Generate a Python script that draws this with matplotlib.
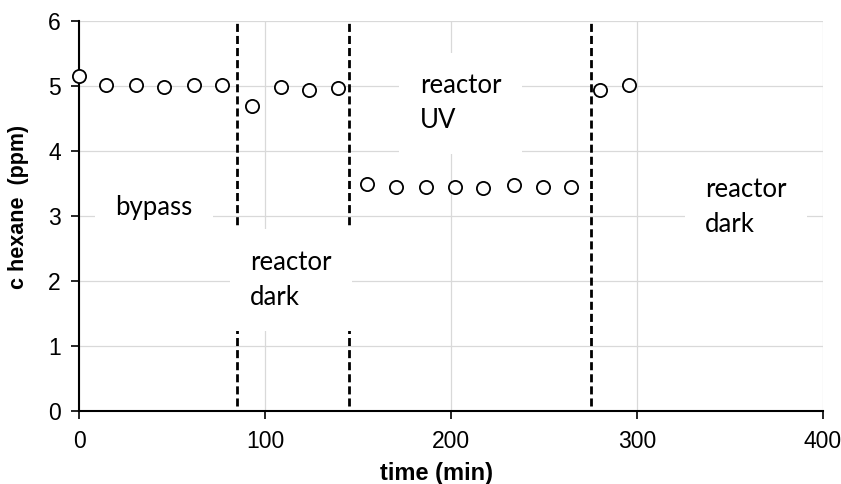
import matplotlib
matplotlib.use("Agg")
import matplotlib.pyplot as plt

# measured hexane concentration over time
time_min = [0, 14.5, 30.6, 45.7, 61.8, 76.9, 93.0, 108.6, 123.7, 139.2,
            154.8, 170.4, 186.6, 202.0, 217.0, 234.0, 249.5, 264.5, 280.0, 295.7]
c_hexane = [5.15, 5.02, 5.02, 4.99, 5.02, 5.01, 4.69, 4.99, 4.94, 4.97,
            3.50, 3.45, 3.44, 3.44, 3.43, 3.47, 3.44, 3.44, 4.94, 5.02]

# phase switches (min)
switch_times = [85, 145, 275]

# phase labels: (text, x, y of last baseline)
phase_labels = [
    ("bypass", 19.4, 3.02),
    ("reactor\ndark", 92.0, 1.63),
    ("reactor\nUV", 183.3, 4.35),
    ("reactor\ndark", 336.6, 2.75),
]

plt.rcParams["font.family"] = ["Liberation Sans", "DejaVu Sans"]

fig = plt.figure(figsize=(8.41, 4.84), dpi=100)
ax = fig.add_axes([79 / 841, 1 - 411 / 484, (823 - 79) / 841, (411 - 21) / 484])

ax.grid(True, color="#d9d9d9", linewidth=0.9, zorder=0)
ax.set_axisbelow(True)

for t in switch_times:
    ax.plot([t, t], [0.08, 6], color="black", linewidth=2.0,
            linestyle=(0, (2.9, 1.45)), zorder=2)

for text, x, y in phase_labels:
    ax.text(x, y, text, family="Lato", fontsize=18.5, ha="left",
            va="baseline", linespacing=1.5, zorder=3,
            bbox=dict(boxstyle="square,pad=0.8", facecolor="white",
                      edgecolor="none"))

ax.plot(time_min, c_hexane, linestyle="none", marker="o", markersize=9.5,
        markerfacecolor="white", markeredgecolor="black",
        markeredgewidth=1.3, zorder=4, clip_on=False)

ax.set_xlim(0, 400)
ax.set_ylim(0, 6)
ax.set_xticks([0, 100, 200, 300, 400])
ax.set_yticks([0, 1, 2, 3, 4, 5, 6])

for side in ["top", "right"]:
    ax.spines[side].set_visible(False)
for side in ["left", "bottom"]:
    ax.spines[side].set_linewidth(1.5)

ax.tick_params(axis="both", direction="out", length=6, width=1.2,
               labelsize=16.5)
ax.tick_params(axis="x", pad=8)
ax.tick_params(axis="y", pad=7)

ax.set_xlabel("time (min)", fontsize=17, fontweight="bold", labelpad=6,
              x=(436 - 79) / 744)
ax.set_ylabel("c hexane  (ppm)", fontsize=15.5, fontweight="bold",
              labelpad=14, y=0.523)

fig.savefig("out.png", dpi=100)
